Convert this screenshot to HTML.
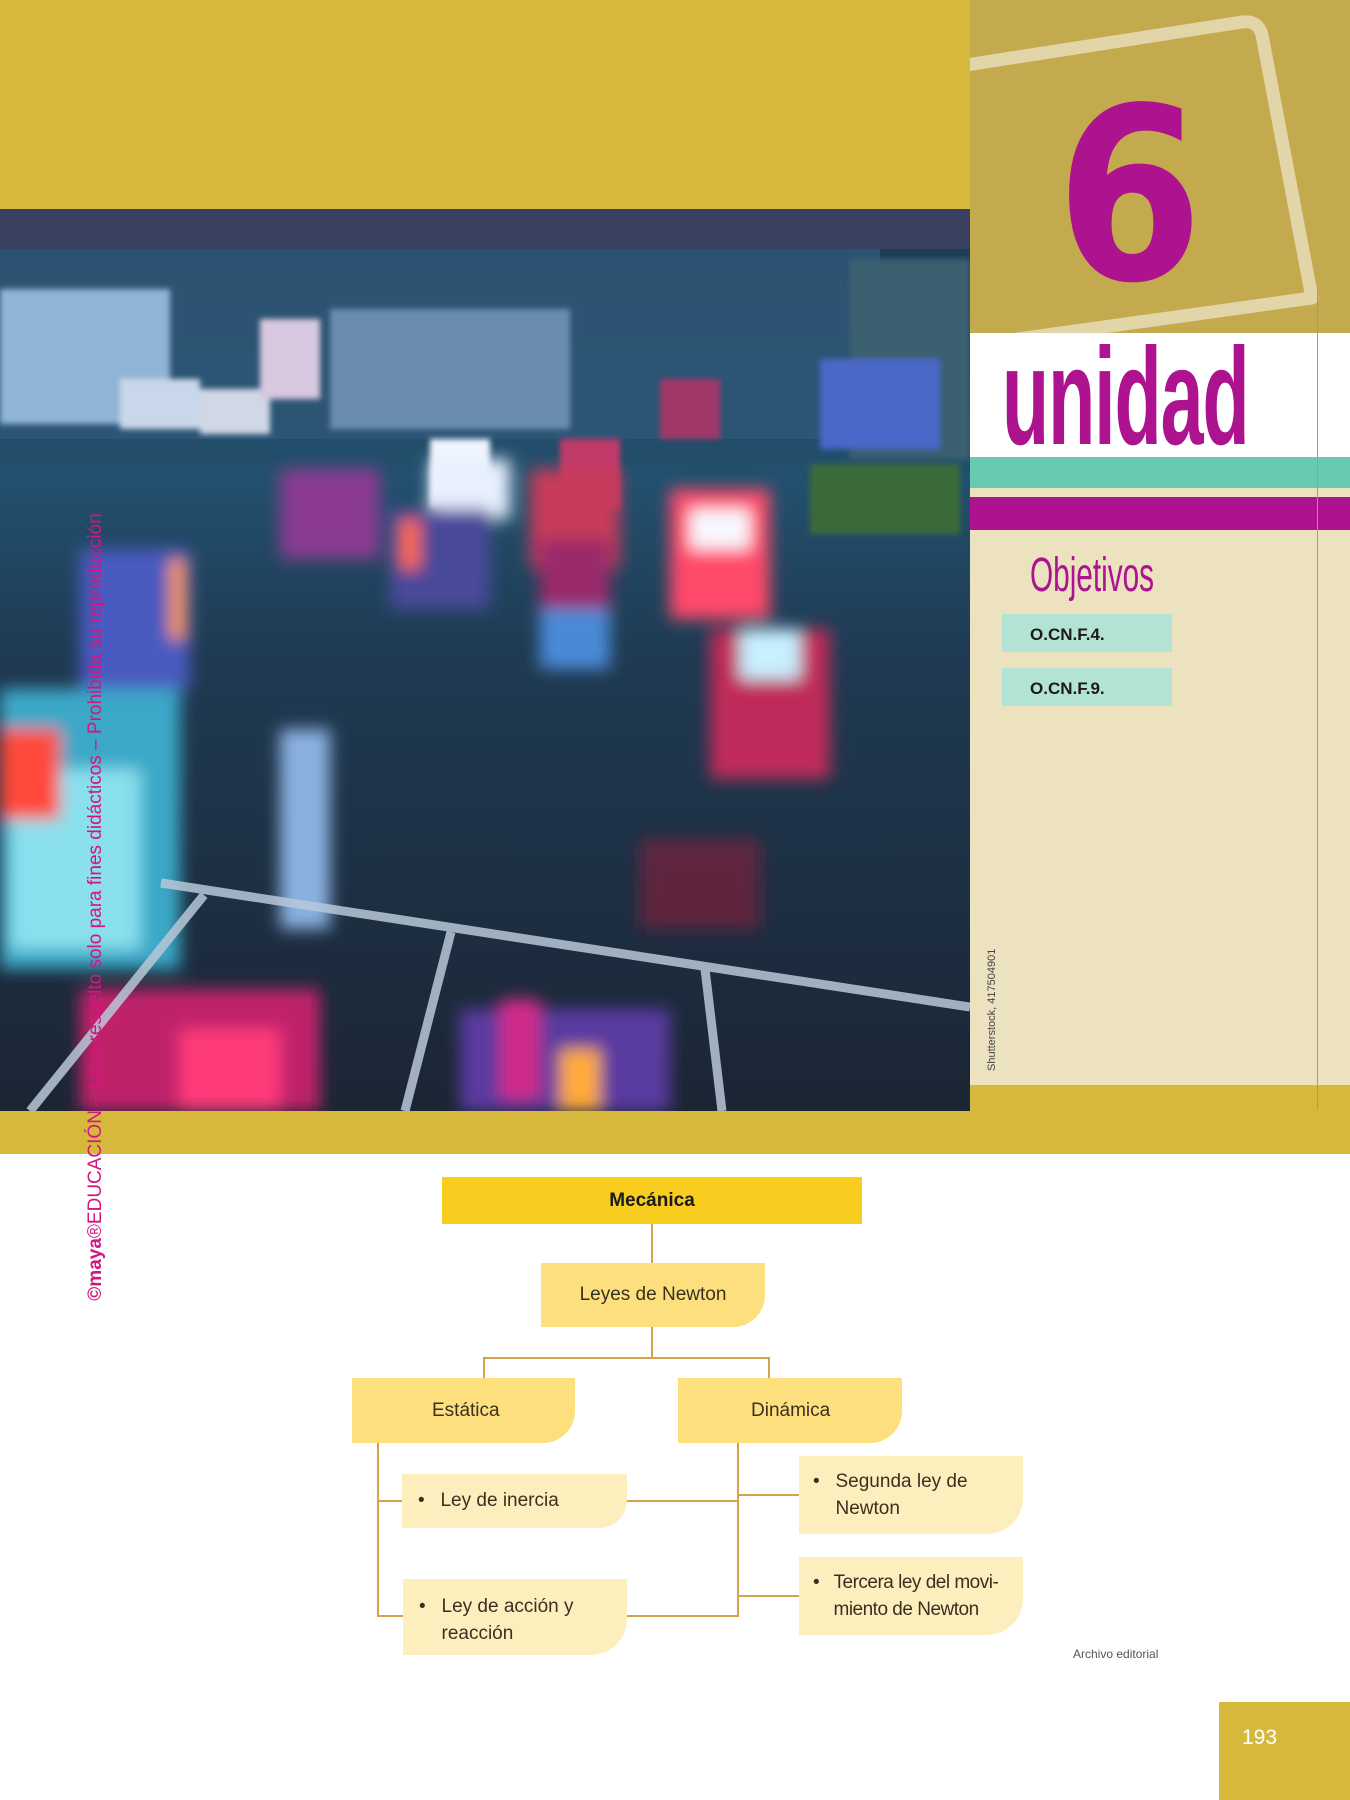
<!DOCTYPE html>
<html><head><meta charset="utf-8"><style>
*{margin:0;padding:0;box-sizing:border-box}
body{width:1350px;height:1800px;position:relative;background:#fff;font-family:"Liberation Sans",sans-serif;overflow:hidden}
.a{position:absolute}
.box{position:absolute;display:flex;align-items:center;color:#3a3020;font-size:19px}
.ln{position:absolute;background:#d3a24a}
</style></head><body>
<div class="a" style="left:0;top:0;width:970px;height:209px;background:#d6b83c"></div>
<div class="a" style="left:0;top:1111px;width:1350px;height:43px;background:#d6b83c"></div>
<svg class="a" style="left:0;top:209px" width="970" height="902" viewBox="0 0 970 902">
 <defs>
  <filter id="b" x="-50%" y="-50%" width="200%" height="200%"><feGaussianBlur stdDeviation="8"/></filter>
  <filter id="b2" x="-50%" y="-50%" width="200%" height="200%"><feGaussianBlur stdDeviation="3"/></filter>
  <linearGradient id="g" x1="0" y1="0" x2="0" y2="1">
   <stop offset="0" stop-color="#1c3a55"/><stop offset=".3" stop-color="#22506e"/><stop offset=".5" stop-color="#1f3a52"/><stop offset="1" stop-color="#1b2534"/>
  </linearGradient>
 </defs>
 <rect width="970" height="902" fill="url(#g)"/>
 <rect x="0" y="0" width="970" height="40" fill="#3a4060"/>
 <rect x="0" y="40" width="880" height="190" fill="#2f5878" opacity=".8"/>
 <g filter="url(#b2)">
  <rect x="0" y="80" width="170" height="135" fill="#8fb4d6"/>
  <rect x="120" y="170" width="80" height="50" fill="#c8d8ea"/>
  <rect x="200" y="180" width="70" height="45" fill="#d0d8e6"/>
  <rect x="260" y="110" width="60" height="80" fill="#d8c8e0"/>
  <rect x="330" y="100" width="240" height="120" fill="#6a8cb0"/>
  <rect x="430" y="230" width="60" height="70" fill="#f0f4ff"/>
  <rect x="560" y="230" width="60" height="70" fill="#c03a6a"/>
  <rect x="660" y="170" width="60" height="60" fill="#a0386a"/>
  <rect x="850" y="50" width="120" height="200" fill="#3a6070"/>
  <rect x="820" y="150" width="120" height="90" fill="#4a68c8"/>
  <rect x="810" y="255" width="150" height="70" fill="#3a6a3a"/>
 </g>
 <g filter="url(#b)">
  <rect x="280" y="260" width="100" height="90" fill="#8a3a90"/>
  <rect x="430" y="250" width="80" height="60" fill="#e8f0ff"/>
  <rect x="390" y="300" width="100" height="100" fill="#4a4a9a"/>
  <rect x="400" y="310" width="20" height="50" fill="#ff6a4a"/>
  <rect x="530" y="260" width="90" height="100" fill="#c83a5a"/>
  <rect x="540" y="330" width="70" height="130" fill="#9a2a6a"/>
  <rect x="540" y="400" width="70" height="60" fill="#4a8ad8"/>
  <rect x="670" y="280" width="100" height="130" fill="#ff4a6a"/>
  <rect x="690" y="300" width="60" height="40" fill="#f8f8ff"/>
  <rect x="710" y="420" width="120" height="150" fill="#c02a5a"/>
  <rect x="740" y="420" width="60" height="50" fill="#c8f0ff"/>
  <rect x="80" y="340" width="110" height="140" fill="#4a5ac0"/>
  <rect x="170" y="350" width="15" height="80" fill="#ff9a3a"/>
  <rect x="0" y="480" width="180" height="280" fill="#3aa8c8"/>
  <rect x="10" y="560" width="130" height="180" fill="#8ae0ee"/>
  <rect x="0" y="520" width="60" height="90" fill="#ff4a3a"/>
  <rect x="280" y="520" width="50" height="200" fill="#8ab0e0"/>
  <rect x="80" y="780" width="240" height="122" fill="#c0206a"/>
  <rect x="180" y="820" width="100" height="82" fill="#ff3a7a"/>
  <rect x="460" y="800" width="210" height="102" fill="#5a3aa0"/>
  <rect x="560" y="840" width="40" height="62" fill="#ffaa3a"/>
  <rect x="500" y="790" width="40" height="100" fill="#d02a8a"/>
  <rect x="640" y="630" width="120" height="90" fill="#8a1a3a" opacity=".6"/>
 </g>
 <g stroke="#b8c8d8" stroke-width="9" opacity=".85" fill="none">
  <line x1="161" y1="674" x2="970" y2="798"/>
  <line x1="204" y1="686" x2="30" y2="902"/>
  <line x1="451" y1="723" x2="405" y2="902"/>
  <line x1="705" y1="760" x2="722" y2="902"/>
 </g>
</svg>
<div class="a" style="left:970px;top:0;width:380px;height:333px;background:#c4aa4e"></div>
<svg class="a" style="left:970px;top:0" width="380" height="333"><path d="M-10 66 L272 22 Q288 20 292 35 L342 298 L40 340" fill="none" stroke="#e2d5a8" stroke-width="13" stroke-linejoin="round"/></svg>
<div class="a" style="left:1056px;top:76px;font-family:'DejaVu Sans',sans-serif;font-weight:bold;font-size:240px;line-height:1;color:#ad128f;transform:scaleX(.88);transform-origin:left">6</div>
<div class="a" style="left:970px;top:333px;width:380px;height:124px;background:#fff"></div>
<div class="a" style="left:1002px;top:318px;font-size:138px;font-weight:bold;color:#ad128f;transform:scaleX(.56);transform-origin:left;letter-spacing:-2px">unidad</div>
<div class="a" style="left:970px;top:457px;width:380px;height:31px;background:#68cbb1"></div>
<div class="a" style="left:970px;top:488px;width:380px;height:9px;background:#ece2c0"></div>
<div class="a" style="left:970px;top:497px;width:380px;height:33px;background:#ad128f"></div>
<div class="a" style="left:970px;top:530px;width:380px;height:555px;background:#ece2c0"></div>
<div class="a" style="left:970px;top:1085px;width:380px;height:26px;background:#d6b83c"></div>
<div class="a" style="left:1317px;top:290px;width:1px;height:820px;background:#9a9a9a"></div>
<div class="a" style="left:1030px;top:548px;font-size:48px;color:#ad128f;transform:scaleX(.62);transform-origin:left">Objetivos</div>
<div class="a" style="left:1002px;top:614px;width:170px;height:38px;background:#b3e3d5;font-size:17px;font-weight:bold;padding:11px 0 0 28px;color:#1a1a1a">O.CN.F.4.</div>
<div class="a" style="left:1002px;top:668px;width:170px;height:38px;background:#b3e3d5;font-size:17px;font-weight:bold;padding:11px 0 0 28px;color:#1a1a1a">O.CN.F.9.</div>
<div class="a" style="left:932px;top:1005px;width:120px;font-size:11px;color:#444;transform:rotate(-90deg);white-space:nowrap">Shutterstock, 417504901</div>
<div class="a" style="left:-318px;top:895px;width:830px;height:24px;font-size:19px;color:#d5157f;transform:rotate(-90deg);white-space:nowrap;text-align:center"><b>©maya</b>®EDUCACIÓN – Libro resuelto solo para fines didácticos – Prohibida su reproducción</div>

<div class="ln" style="left:651px;top:1224px;width:2px;height:40px"></div>
<div class="ln" style="left:651px;top:1327px;width:2px;height:31px"></div>
<div class="ln" style="left:483px;top:1357px;width:287px;height:2px"></div>
<div class="ln" style="left:483px;top:1357px;width:2px;height:22px"></div>
<div class="ln" style="left:768px;top:1357px;width:2px;height:22px"></div>
<div class="ln" style="left:377px;top:1443px;width:2px;height:174px"></div>
<div class="ln" style="left:377px;top:1500px;width:26px;height:2px"></div>
<div class="ln" style="left:377px;top:1615px;width:26px;height:2px"></div>
<div class="ln" style="left:737px;top:1443px;width:2px;height:174px"></div>
<div class="ln" style="left:627px;top:1500px;width:112px;height:2px"></div>
<div class="ln" style="left:627px;top:1615px;width:112px;height:2px"></div>
<div class="ln" style="left:737px;top:1494px;width:62px;height:2px"></div>
<div class="ln" style="left:737px;top:1595px;width:62px;height:2px"></div>

<div class="box" style="left:442px;top:1177px;width:420px;height:47px;background:#f9cd1f;justify-content:center;font-weight:bold;color:#1a1a1a">Mecánica</div>
<div class="box" style="left:541px;top:1263px;width:224px;height:64px;background:#fde07d;border-bottom-right-radius:32px;justify-content:center">Leyes de Newton</div>
<div class="box" style="left:352px;top:1378px;width:223px;height:65px;background:#fde07d;border-bottom-right-radius:32px;padding-left:80px">Estática</div>
<div class="box" style="left:678px;top:1378px;width:224px;height:65px;background:#fde07d;border-bottom-right-radius:32px;padding-left:73px">Dinámica</div>
<div class="box" style="left:402px;top:1474px;width:225px;height:54px;background:#fdefbd;border-bottom-right-radius:28px;padding-left:16px">•&nbsp;&nbsp;&nbsp;Ley de inercia</div>
<div class="box" style="left:403px;top:1579px;width:224px;height:76px;background:#fdefbd;border-bottom-right-radius:36px;padding-left:16px;align-items:flex-start;padding-top:14px;line-height:27px"><span>•&nbsp;&nbsp;&nbsp;</span><span>Ley de acción y<br>reacción</span></div>
<div class="box" style="left:799px;top:1456px;width:224px;height:78px;background:#fdefbd;border-bottom-right-radius:36px;padding-left:14px;align-items:flex-start;padding-top:12px;line-height:27px"><span>•&nbsp;&nbsp;&nbsp;</span><span>Segunda ley de<br>Newton</span></div>
<div class="box" style="left:799px;top:1557px;width:224px;height:78px;background:#fdefbd;border-bottom-right-radius:36px;padding-left:14px;align-items:flex-start;padding-top:12px;line-height:27px;letter-spacing:-.5px"><span>•&nbsp;&nbsp;&nbsp;</span><span>Tercera ley del movi-<br>miento de Newton</span></div>
<div class="a" style="left:1073px;top:1647px;font-size:12px;color:#555">Archivo editorial</div>
<div class="a" style="left:1219px;top:1702px;width:131px;height:98px;background:#d6b83c;color:#fff;font-size:21px;padding:24px 0 0 23px">193</div>
</body></html>
